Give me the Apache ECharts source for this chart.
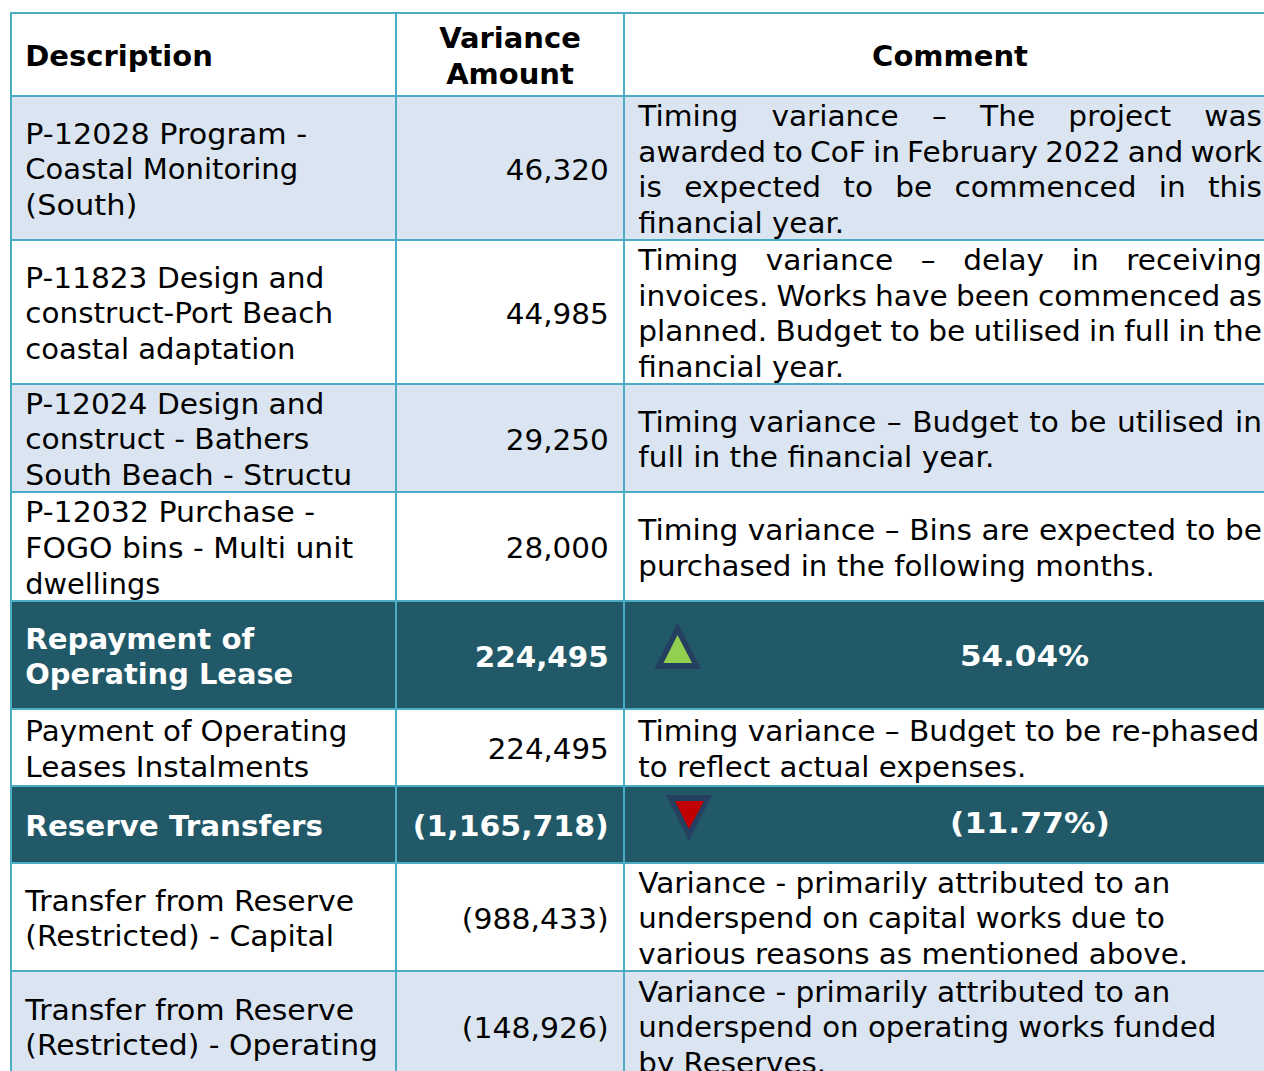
<!DOCTYPE html>
<html>
<head>
    <meta charset="utf-8">
    <title>Variance table</title>
    <script src="https://cdn.jsdelivr.net/npm/echarts@6/dist/echarts.min.js"></script>
    <style>
        html, body { margin: 0; padding: 0; background: #fff; }
        /* the source font has no fi / fl ligatures */
        #main text { font-variant-ligatures: none; }
    </style>
</head>
<body>
    <div id="main" style="width: 1264px;height:1071px;"></div>
    <script type="text/javascript">
        // table content
        var headers = [['Description'], ['Variance', 'Amount'], ['Comment']];
        var descriptions = [
            ['P-12028 Program -', 'Coastal Monitoring', '(South)'],
            ['P-11823 Design and', 'construct-Port Beach', 'coastal adaptation'],
            ['P-12024 Design and', 'construct - Bathers', 'South Beach - Structu'],
            ['P-12032 Purchase -', 'FOGO bins - Multi unit', 'dwellings'],
            ['Repayment of', 'Operating Lease'],
            ['Payment of Operating', 'Leases Instalments'],
            ['Reserve Transfers'],
            ['Transfer from Reserve', '(Restricted) - Capital'],
            ['Transfer from Reserve', '(Restricted) - Operating']
        ];
        var amounts = ['46,320', '44,985', '29,250', '28,000', '224,495', '224,495', '(1,165,718)', '(988,433)', '(148,926)'];
        var comments = [
            ['Timing variance – The project was', 'awarded to CoF in February 2022 and work', 'is expected to be commenced in this', 'financial year.'],
            ['Timing variance – delay in receiving', 'invoices. Works have been commenced as', 'planned. Budget to be utilised in full in the', 'financial year.'],
            ['Timing variance – Budget to be utilised in', 'full in the financial year.'],
            ['Timing variance – Bins are expected to be', 'purchased in the following months.'],
            ['54.04%'],
            ['Timing variance – Budget to be re-phased', 'to reflect actual expenses.'],
            ['(11.77%)'],
            ['Variance - primarily attributed to an', 'underspend on capital works due to', 'various reasons as mentioned above.'],
            ['Variance - primarily attributed to an', 'underspend on operating works funded', 'by Reserves.']
        ];
        var rowKinds = ['band', 'plain', 'band', 'plain', 'total', 'plain', 'total', 'plain', 'band'];

        // layout of the table, in px
        var colEdges = [11, 396, 624, 1275];
        var rowEdges = [13, 96, 240, 384, 492, 601, 709, 786, 863, 971, 1081];
        // DejaVu is narrower than the source font, so every line is stretched to its measured end
        var descEnds = [
            [308, 299, 138], [325, 334, 296], [325, 310, 353], [316, 354, 161],
            [255, 294], [348, 310], [324], [355, 335], [355, 379]
        ];
        var amountStarts = [505, 505, 505, 505, 474, 487, 412, 461, 461];
        var commentEnds = [
            [null, null, null, 845], [null, null, null, 845], [null, 995], [null, 1156],
            [], [1260, 1027], [], [1171, 1166, 1189], [1171, 1217, 827]
        ];
        var totalText = { 4: { cx: 1024.5, cy: 656, width: 129 }, 6: { cx: 1030, cy: 823, width: 160 } };
        var textLeft = 25.3;
        var commentLeft = 638.3;
        var amountRight = 608.7;
        var fontSize = 29;
        var lineHeight = 35.6;
        var fontFamily = '"DejaVu Sans", Verdana, sans-serif';
        var lineColor = '#4bacc6';
        var fills = { band: '#dbe5f1', plain: '#ffffff', total: '#215968' };

        var measure = document.createElement('canvas').getContext('2d');
        function textWidth(str, weight) {
            measure.font = weight + ' ' + fontSize + 'px ' + fontFamily;
            return measure.measureText(str).width;
        }

        function textEl(api, str, x, y, align, color, weight, width) {
            var p = api.coord([x, y]);
            return {
                type: 'text',
                x: p[0],
                y: p[1],
                scaleX: width ? width / textWidth(str, weight) : 1,
                style: {
                    text: str,
                    x: 0,
                    y: 0,
                    align: align,
                    verticalAlign: 'middle',
                    fill: color,
                    font: weight + ' ' + fontSize + 'px ' + fontFamily
                }
            };
        }

        function rectEl(api, x0, y0, x1, y1, color) {
            var a = api.coord([x0, y0]);
            var b = api.coord([x1, y1]);
            return {
                type: 'rect',
                shape: { x: a[0], y: a[1], width: b[0] - a[0], height: b[1] - a[1] },
                style: { fill: color }
            };
        }

        function triangleEl(api, pts, color) {
            return {
                type: 'polygon',
                shape: { points: pts.map(function (q) { return api.coord(q); }) },
                style: { fill: color }
            };
        }

        function lineYs(count, top, bottom, shift) {
            var mid = (top + bottom) / 2 + shift;
            var ys = [];
            for (var i = 0; i < count; i++) {
                ys.push(mid + (i - (count - 1) / 2) * lineHeight);
            }
            return ys;
        }

        // spread the words of a line between left and right edge
        function justifyLine(api, str, left, right, y, color) {
            var stretch = 1.02;
            var words = str.split(' ');
            var total = 0;
            words.forEach(function (w) { total += textWidth(w, 'normal') * stretch; });
            var gap = (right - left - total) / (words.length - 1);
            var x = left;
            return words.map(function (w) {
                var wordWidth = textWidth(w, 'normal') * stretch;
                var el = textEl(api, w, x, y, 'left', color, 'normal', wordWidth);
                x += wordWidth + gap;
                return el;
            });
        }

        function renderRow(params, api) {
            var r = api.value(0);
            var top = rowEdges[r + 1];
            var bottom = rowEdges[r + 2];
            var kind = rowKinds[r];
            var color = kind === 'total' ? '#ffffff' : '#000000';
            var weight = kind === 'total' ? 'bold' : 'normal';
            var kids = [];

            var ys = lineYs(descriptions[r].length, top, bottom, 1.5);
            descriptions[r].forEach(function (s, i) {
                kids.push(textEl(api, s, textLeft, ys[i], 'left', color, weight, descEnds[r][i] - 26));
            });

            kids.push(textEl(api, amounts[r], amountRight, (top + bottom) / 2 + 2, 'right', color, weight, 608 - amountStarts[r]));

            if (kind === 'total') {
                var t = totalText[r];
                kids.push(textEl(api, comments[r][0], t.cx, t.cy, 'center', color, weight, t.width));
            } else {
                ys = lineYs(comments[r].length, top, bottom, 1.5);
                comments[r].forEach(function (s, i) {
                    if (commentEnds[r][i]) {
                        kids.push(textEl(api, s, commentLeft, ys[i], 'left', color, weight, commentEnds[r][i] - 639));
                    } else {
                        kids = kids.concat(justifyLine(api, s, commentLeft, 1262, ys[i], color));
                    }
                });
            }
            return { type: 'group', children: kids };
        }

        var myChart = echarts.init(document.getElementById('main'), null, { renderer: 'svg' });

        var option = {
            animation: false,
            grid: { left: 0, right: 0, top: 0, bottom: 0 },
            xAxis: { type: 'value', min: 0, max: 1264, show: false },
            yAxis: { type: 'value', min: 0, max: 1071, inverse: true, show: false },
            series: [
                {
                    // cell fills
                    type: 'custom',
                    coordinateSystem: 'cartesian2d',
                    z: 1,
                    data: rowKinds.map(function (k, i) { return [i]; }),
                    encode: { x: 0 },
                    renderItem: function (params, api) {
                        var r = api.value(0);
                        return rectEl(api, colEdges[0], rowEdges[r + 1], colEdges[3], rowEdges[r + 2], fills[rowKinds[r]]);
                    }
                },
                {
                    // grid lines
                    type: 'custom',
                    coordinateSystem: 'cartesian2d',
                    z: 2,
                    data: [[0]],
                    encode: { x: 0 },
                    renderItem: function (params, api) {
                        var kids = [];
                        rowEdges.forEach(function (y) {
                            kids.push(rectEl(api, colEdges[0] - 1, y - 1, colEdges[3], y + 1, lineColor));
                        });
                        colEdges.slice(0, 3).forEach(function (x) {
                            kids.push(rectEl(api, x - 1, rowEdges[0] - 1, x + 1, rowEdges[10], lineColor));
                        });
                        return { type: 'group', children: kids };
                    }
                },
                {
                    // arrows in the two total rows
                    type: 'custom',
                    coordinateSystem: 'cartesian2d',
                    z: 3,
                    data: [[0]],
                    encode: { x: 0 },
                    renderItem: function (params, api) {
                        return {
                            type: 'group',
                            children: [
                                triangleEl(api, [[677.5, 622.5], [701, 669], [654.5, 669]], '#243f60'),
                                triangleEl(api, [[677.5, 635], [692, 663], [663.5, 663]], '#92d050'),
                                triangleEl(api, [[666, 795], [712, 795], [689, 841]], '#243f60'),
                                triangleEl(api, [[675, 801], [704, 801], [689, 829]], '#c00000')
                            ]
                        };
                    }
                },
                {
                    // header text
                    type: 'custom',
                    coordinateSystem: 'cartesian2d',
                    z: 4,
                    data: [[0]],
                    encode: { x: 0 },
                    renderItem: function (params, api) {
                        return {
                            type: 'group',
                            children: [
                                textEl(api, headers[0][0], textLeft, 55.5, 'left', '#000000', 'bold'),
                                textEl(api, headers[1][0], 510, 37.5, 'center', '#000000', 'bold'),
                                textEl(api, headers[1][1], 510, 73.5, 'center', '#000000', 'bold'),
                                textEl(api, headers[2][0], 950, 55.5, 'center', '#000000', 'bold')
                            ]
                        };
                    }
                },
                {
                    // body text
                    type: 'custom',
                    coordinateSystem: 'cartesian2d',
                    z: 5,
                    data: rowKinds.map(function (k, i) { return [i]; }),
                    encode: { x: 0 },
                    renderItem: renderRow
                }
            ]
        };

        myChart.setOption(option);
    </script>
</body>
</html>
